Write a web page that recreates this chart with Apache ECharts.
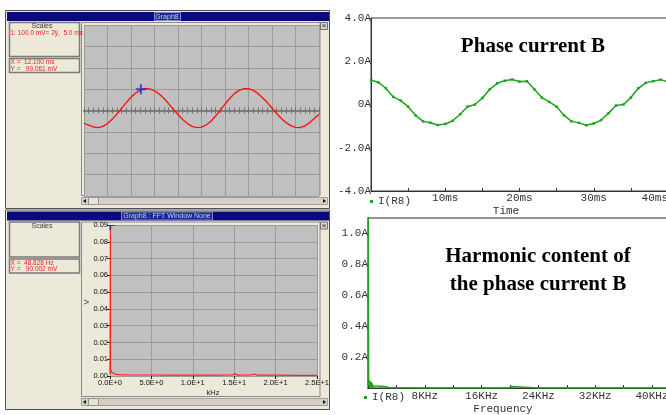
<!DOCTYPE html>
<html>
<head>
<meta charset="utf-8">
<script src="https://cdn.jsdelivr.net/npm/echarts@6/dist/echarts.min.js"></script>
<style>
  html, body { margin: 0; padding: 0; background: #fff; }
  #chart { width: 666px; height: 415px; }
</style>
</head>
<body>
<div id="chart"></div>
<script>
// scope trace (top left), time in ms, value in mV (100 mV / div)
const scopeTime = [0,1,2,3,4,5,6,7,8,9,10,11,12,13,14,15,16,17,18,19,20,21,22,23,24,25,
  26,27,28,29,30,31,32,33,34,35,36,37,38,39,40,41,42,43,44,45,46,47,48,49,50];
const scopeMv = [-60,-68,-77,-80,-74,-61,-41,-17,10,37,62,82,96,103,101,92,77,57,32,6,-19,-42,-61,-74,-80,-78,
  -68,-50,-26,2,30,56,79,94,102,102,94,80,60,37,12,-14,-37,-57,-71,-79,-80,-72,-57,-37,-18];
const scopeCursor = [12.1, 99.061];

// FFT of scope trace (bottom left), kHz / V
const fftKhz = [0, 0.03, 0.049, 0.06, 0.1, 0.2, 0.4, 0.7, 1.2, 2, 3.5, 5, 7, 9, 11, 13, 14.8, 15.1, 15.4, 17, 17.4, 17.8, 20, 22, 25];
const fftV = [0.001, 0.001, 0.09, 0.004, 0.0035, 0.0022, 0.0014, 0.001, 0.0008, 0.0007, 0.0006, 0.0006, 0.0005, 0.0006, 0.0005, 0.0005, 0.0006, 0.0014, 0.0005, 0.0006, 0.0012, 0.0005, 0.0005, 0.0004, 0.0004];
const fftCursor = [0.048828, 0.090002];
const fftXTicks = [0, 5, 10, 15, 20, 25];
const fftXLabels = ['0.0E+0', '5.0E+0', '1.0E+1', '1.5E+1', '2.0E+1', '2.5E+1'];

// phase current B (top right), ms / A
const phaseTime = [0,1,2,3,4,5,6,7,8,9,10,11,12,13,14,15,16,17,18,19,20,
  21,22,23,24,25,26,27,28,29,30,31,32,33,34,35,36,37,38,39,40];
const phaseAmp = [1.13,1.02,0.75,0.35,0.18,-0.1,-0.5,-0.78,-0.84,-0.95,-0.9,-0.75,-0.45,-0.1,0.0,0.3,0.7,0.98,1.1,1.16,1.06,
  1.08,0.7,0.32,0.12,-0.1,-0.5,-0.78,-0.85,-0.96,-0.88,-0.72,-0.4,-0.05,0.0,0.32,0.75,1.0,1.08,1.15,1.05];
const phaseYTicks = [-4, -2, 0, 2, 4];
const phaseYLabels = ['-4.0A', '-2.0A', '0A', '2.0A', '4.0A'];
const phaseXTicks = [10, 20, 30, 40];
const phaseXLabels = ['10ms', '20ms', '30ms', '40ms'];

// harmonic content (bottom right), kHz / A
const harmKhz = [0, 0.05, 0.1, 0.15, 0.2, 0.25, 0.3, 0.35, 0.4, 0.45, 0.5, 0.55, 0.6, 0.65, 0.7, 0.8, 0.9, 1.0, 1.1, 1.2,
  1.3, 1.5, 1.7, 1.9, 2.1, 2.3, 2.5, 2.7, 3.0, 4, 8, 12, 16, 19.9, 20.0, 20.1, 20.2, 20.3, 20.4, 24, 32, 40, 48, 50];
const harmAmp = [0.02, 1.15, 0.06, 0.01, 0.05, 0.005, 0.045, 0.01, 0.04, 0.004, 0.035, 0.008, 0.03, 0.005, 0.02, 0.006, 0.018, 0.004, 0.015, 0.003,
  0.012, 0.01, 0.008, 0.012, 0.006, 0.01, 0.005, 0.008, 0.002, 0.001, 0, 0, 0, 0, 0.012, 0, 0.01, 0, 0, 0, 0, 0, 0, 0];
const harmYTicks = [0.2, 0.4, 0.6, 0.8, 1.0];
const harmYLabels = ['0.2A', '0.4A', '0.6A', '0.8A', '1.0A'];
const harmXTicks = [8, 16, 24, 32, 40, 48];
const harmXLabels = ['8KHz', '16KHz', '24KHz', '32KHz', '40KHz', '48KHz'];

const monoFont = '"Liberation Mono", "DejaVu Sans Mono", monospace';
const smallFont = '"Liberation Sans", Arial, sans-serif';

function pick(ticks, labels) {
  return function (v) {
    const i = ticks.findIndex(t => Math.abs(t - v) < 1e-6);
    return i < 0 ? '' : labels[i];
  };
}
function zip(xs, ys) {
  return xs.map((x, i) => [x, ys[i]]);
}

// window chrome for the two scope windows on the left
function scopeWindow(top, h, title, titleBox, lines) {
  const els = [
    { type: 'rect', z: -10, shape: { x: 5.5, y: top + 0.5, width: 324, height: h }, style: { fill: '#ece9d8', stroke: '#505050', lineWidth: 1 } },
    { type: 'rect', z: -9, shape: { x: 7, y: top + 2, width: 322, height: 9 }, style: { fill: '#0a0a7c' } },
    { type: 'rect', z: -8, shape: { x: titleBox[0], y: top + 2.5, width: titleBox[1], height: 8 }, style: { fill: '#1a2a90', stroke: '#7a86c8', lineWidth: 1 } },
    { type: 'text', z: 10, style: { x: 167, y: top + 7, text: title, align: 'center', verticalAlign: 'middle', font: '7px ' + smallFont, fill: '#c8cce8' } },
    { type: 'rect', z: -8, shape: { x: 81.5, y: top + 12.5, width: 238.5, height: h - 25 }, style: { fill: '#ece9d8', stroke: '#8a8a8a', lineWidth: 1 } },
    { type: 'rect', z: -8, shape: { x: 320.5, y: top + 12.5, width: 7, height: 7 }, style: { fill: '#d8d4cc', stroke: '#707070', lineWidth: 1 } },
    { type: 'text', z: 10, style: { x: 324, y: top + 16, text: '×', align: 'center', verticalAlign: 'middle', font: '8px ' + smallFont, fill: '#222' } },
    { type: 'rect', z: -8, shape: { x: 81.5, y: top + h - 10.5, width: 246, height: 7 }, style: { fill: '#d4d0c8', stroke: '#a0a0a0', lineWidth: 1 } },
    { type: 'rect', z: -7, shape: { x: 88.5, y: top + h - 10.5, width: 10, height: 7 }, style: { fill: '#e6e3dc', stroke: '#909090', lineWidth: 1 } },
    { type: 'polygon', z: -6, shape: { points: [[83, top + h - 7], [86, top + h - 9], [86, top + h - 5]] }, style: { fill: '#111' } },
    { type: 'polygon', z: -6, shape: { points: [[326, top + h - 7], [323, top + h - 9], [323, top + h - 5]] }, style: { fill: '#111' } },
    { type: 'rect', z: -7, shape: { x: 9.5, y: top + 12.5, width: 70, height: lines.boxH }, style: { fill: '#ece9d8', stroke: '#7a7a7a', lineWidth: 1.5 } },
    { type: 'text', z: 10, style: { x: 42, y: top + 16.5, text: 'Scales', align: 'center', verticalAlign: 'middle', font: '7px ' + smallFont, fill: '#404040' } },
    { type: 'rect', z: -7, shape: { x: 9.5, y: top + 14.5 + lines.boxH, width: 70, height: 14 }, style: { fill: '#ece9d8', stroke: '#7a7a7a', lineWidth: 1.5 } }
  ];
  if (lines.scale) {
    els.push({ type: 'text', z: 10, style: { x: 10.5, y: top + 23.5, text: lines.scale, verticalAlign: 'middle', font: '6.5px ' + smallFont, fill: '#ee2020' } });
  }
  els.push({ type: 'text', z: 10, style: { x: 10.5, y: top + lines.boxH + 18.5, text: lines.x, verticalAlign: 'middle', font: '6.5px ' + smallFont, fill: '#ee2020' } });
  els.push({ type: 'text', z: 10, style: { x: 10.5, y: top + lines.boxH + 25, text: lines.y, verticalAlign: 'middle', font: '6.5px ' + smallFont, fill: '#ee2020' } });
  return els;
}

const chart = echarts.init(document.getElementById('chart'), null, { renderer: 'canvas' });

const graphicEls = [].concat(
  scopeWindow(10, 198, 'Graph8', [154.5, 26], {
    boxH: 34, scale: '1: 100.0 mV= 2ÿ,  5.0 ms', x: 'X =  12.100 ms', y: 'Y =   99.061 mV'
  }),
  scopeWindow(209.5, 199.5, 'Graph8 : FFT Window None', [121.5, 91], {
    boxH: 35, scale: '', x: 'X =  48.828 Hz', y: 'Y =   90.002 mV'
  }),
  [
    { type: 'text', z: 10, style: { x: 213, y: 393, text: 'kHz', align: 'center', verticalAlign: 'middle', font: '7.5px ' + smallFont, fill: '#222' } },
    { type: 'text', z: 10, x: 87, y: 302, rotation: Math.PI / 2, style: { x: 0, y: 0, text: 'V', align: 'center', verticalAlign: 'middle', font: '7.5px ' + smallFont, fill: '#222' } },
    { type: 'text', z: 10, style: { x: 533, y: 47, text: 'Phase current B', align: 'center', verticalAlign: 'middle', font: 'bold 21px "Liberation Serif", "Times New Roman", serif', fill: '#000' } },
    { type: 'text', z: 10, style: { x: 538, y: 257, text: 'Harmonic content of', align: 'center', verticalAlign: 'middle', font: 'bold 21px "Liberation Serif", "Times New Roman", serif', fill: '#000' } },
    { type: 'text', z: 10, style: { x: 538, y: 285, text: 'the phase current B', align: 'center', verticalAlign: 'middle', font: 'bold 21px "Liberation Serif", "Times New Roman", serif', fill: '#000' } },
    { type: 'text', z: 10, style: { x: 506, y: 211, text: 'Time', align: 'center', verticalAlign: 'middle', font: '11px ' + monoFont, fill: '#333' } },
    { type: 'text', z: 10, style: { x: 503, y: 409, text: 'Frequency', align: 'center', verticalAlign: 'middle', font: '11px ' + monoFont, fill: '#333' } }
  ]
);

const hideAxis = { axisLine: { show: false, onZero: false }, axisTick: { show: false }, axisLabel: { show: false } };

const option = {
  animation: false,
  backgroundColor: '#fff',
  graphic: { elements: graphicEls },
  grid: [
    { left: 84, top: 25, width: 235, height: 171, show: true, backgroundColor: '#c0c0c0', borderWidth: 0, outerBoundsMode: 'none' },
    { left: 110, top: 225, width: 207, height: 151, show: true, backgroundColor: '#c0c0c0', borderWidth: 0, outerBoundsMode: 'none' },
    { left: 371, top: 18, width: 297, height: 173, show: true, backgroundColor: '#fff', borderColor: '#3a3a3a', borderWidth: 1, outerBoundsMode: 'none' },
    { left: 368, top: 218, width: 355, height: 170, show: true, backgroundColor: '#fff', borderColor: '#707070', borderWidth: 1.5, outerBoundsMode: 'none' }
  ],
  legend: [
    { data: ['I(R8)'], left: 370, top: 196, padding: 0, icon: 'rect', itemWidth: 3, itemHeight: 3, selectedMode: false,
      textStyle: { fontFamily: monoFont, fontSize: 11, color: '#333' } },
    { data: ['I(R8)'], left: 364, top: 392, padding: 0, icon: 'rect', itemWidth: 3, itemHeight: 3, selectedMode: false,
      textStyle: { fontFamily: monoFont, fontSize: 11, color: '#333' } }
  ],
  xAxis: [
    Object.assign({ gridIndex: 0, type: 'value', min: 0, max: 50, interval: 5,
      splitLine: { show: true, lineStyle: { color: '#9a9a9a', width: 1 } } }, hideAxis),
    { gridIndex: 0, type: 'value', min: 0, max: 50, interval: 1, position: 'bottom',
      axisLine: { show: true, onZero: true, onZeroAxisIndex: 0, lineStyle: { color: '#7c7c7c', width: 2 } },
      axisTick: { show: true, inside: true, length: 3, lineStyle: { color: '#707070' } },
      axisLabel: { show: false }, splitLine: { show: false } },
    { gridIndex: 0, type: 'value', min: 0, max: 50, interval: 1, position: 'top',
      axisLine: { show: true, onZero: true, onZeroAxisIndex: 0, lineStyle: { color: '#7c7c7c', width: 2 } },
      axisTick: { show: true, inside: true, length: 3, lineStyle: { color: '#707070' } },
      axisLabel: { show: false }, splitLine: { show: false } },
    { gridIndex: 1, type: 'value', min: 0, max: 25, interval: 5,
      axisLine: { show: false, onZero: false },
      axisTick: { show: true, length: 3, lineStyle: { color: '#222' } },
      axisLabel: { margin: 3, fontFamily: smallFont, fontSize: 7.5, color: '#111', formatter: pick(fftXTicks, fftXLabels) },
      splitLine: { show: true, lineStyle: { color: '#9a9a9a' } } },
    { gridIndex: 2, type: 'value', min: 0, max: 40, interval: 10,
      axisLine: { show: true, onZero: false, lineStyle: { color: '#333', width: 1 } },
      axisTick: { show: true, inside: true, length: 3, lineStyle: { color: '#333' } },
      minorTick: { show: true, splitNumber: 2, length: 3, lineStyle: { color: '#333' } },
      axisLabel: { margin: 2, fontFamily: monoFont, fontSize: 11, color: '#333', alignMaxLabel: 'right', formatter: pick(phaseXTicks, phaseXLabels) },
      splitLine: { show: false } },
    { gridIndex: 3, type: 'value', min: 0, max: 50, interval: 8,
      axisLine: { show: true, onZero: false, lineStyle: { color: '#333', width: 1 } },
      axisTick: { show: true, inside: true, length: 3, lineStyle: { color: '#333' } },
      minorTick: { show: true, splitNumber: 2, length: 3, lineStyle: { color: '#333' } },
      axisLabel: { margin: 3, fontFamily: monoFont, fontSize: 11, color: '#333', formatter: pick(harmXTicks, harmXLabels) },
      splitLine: { show: false } }
  ],
  yAxis: [
    Object.assign({ gridIndex: 0, type: 'value', min: -400, max: 400, interval: 100,
      splitLine: { show: true, lineStyle: { color: '#9a9a9a', width: 1 } } }, hideAxis),
    { gridIndex: 1, type: 'value', min: 0, max: 0.09, interval: 0.01,
      axisLine: { show: false, onZero: false },
      axisTick: { show: true, length: 3, lineStyle: { color: '#222' } },
      axisLabel: { margin: 2, fontFamily: smallFont, fontSize: 7.5, color: '#111', formatter: v => v.toFixed(2) },
      splitLine: { show: true, lineStyle: { color: '#9a9a9a' } } },
    { gridIndex: 2, type: 'value', min: -4, max: 4, interval: 2,
      axisLine: { show: true, onZero: false, lineStyle: { color: '#333', width: 1 } },
      axisTick: { show: false },
      axisLabel: { margin: 0, fontFamily: monoFont, fontSize: 11, color: '#333', formatter: pick(phaseYTicks, phaseYLabels) },
      splitLine: { show: false } },
    { gridIndex: 3, type: 'value', min: 0, max: 1.1, interval: 0.2,
      axisLine: { show: true, onZero: false, lineStyle: { color: '#333', width: 1 } },
      axisTick: { show: false },
      axisLabel: { margin: 0, fontFamily: monoFont, fontSize: 11, color: '#333', formatter: pick(harmYTicks, harmYLabels) },
      splitLine: { show: false } }
  ],
  series: [
    { name: 'scope', type: 'line', xAxisIndex: 0, yAxisIndex: 0, data: zip(scopeTime, scopeMv),
      symbol: 'none', lineStyle: { color: '#ff1010', width: 1.4 }, itemStyle: { color: '#ff1010' }, z: 3 },
    { name: 'scopeCursor', type: 'scatter', xAxisIndex: 0, yAxisIndex: 0, data: [scopeCursor],
      symbol: 'path://M4 0H6V4H10V6H6V10H4V6H0V4H4Z', symbolSize: 10, itemStyle: { color: '#1028e8' }, z: 4 },
    { name: 'fft', type: 'line', xAxisIndex: 3, yAxisIndex: 1, data: zip(fftKhz, fftV),
      symbol: 'none', lineStyle: { color: '#ff2020', width: 1.2 }, itemStyle: { color: '#ff2020' }, z: 3 },
    { name: 'fftCursor', type: 'scatter', xAxisIndex: 3, yAxisIndex: 1, data: [fftCursor],
      symbol: 'path://M0 0H10V2H3V10H0Z', symbolSize: [6, 5], symbolOffset: [2, 2.5], itemStyle: { color: '#1028e8' }, z: 4 },
    { name: 'I(R8)', type: 'line', xAxisIndex: 4, yAxisIndex: 2, data: zip(phaseTime, phaseAmp),
      symbol: 'rect', symbolSize: 2.5, showSymbol: true,
      lineStyle: { color: '#1ca41c', width: 1.5 }, itemStyle: { color: '#1ca41c' }, z: 3 },
    { name: 'I(R8)', type: 'line', xAxisIndex: 5, yAxisIndex: 3, data: zip(harmKhz, harmAmp),
      symbol: 'none', lineStyle: { color: '#1ca41c', width: 1.3 }, itemStyle: { color: '#1ca41c' }, z: 3 }
  ]
};

chart.setOption(option);
</script>
</body>
</html>
